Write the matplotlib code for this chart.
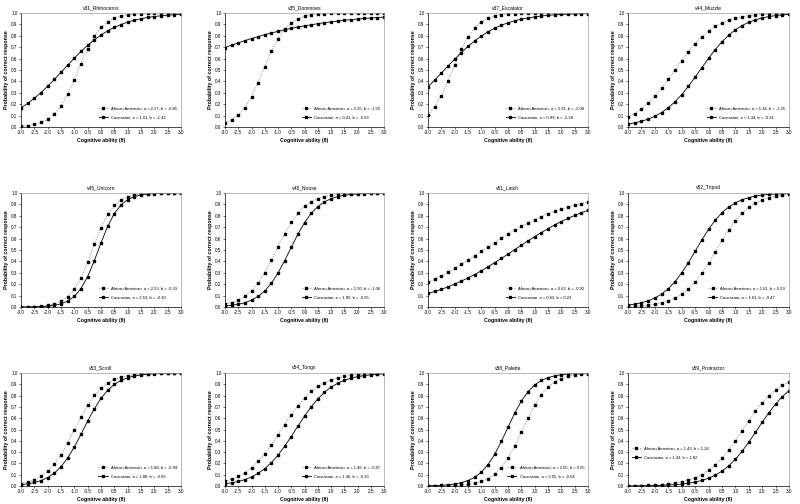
import matplotlib
matplotlib.use("Agg")
from matplotlib import pyplot as plt

plt.rcParams['font.family'] = ['Liberation Sans', 'DejaVu Sans']

theta = [-3.0, -2.75, -2.5, -2.25, -2.0, -1.75, -1.5, -1.25, -1.0, -0.75, -0.5, -0.25,
         0.0, 0.25, 0.5, 0.75, 1.0, 1.25, 1.5, 1.75, 2.0, 2.25, 2.5, 2.75, 3.0]

titles = ["v31_Rhinoceros", "v35_Dominoes", "v37_Escalator", "v44_Muzzle",
          "v45_Unicorn", "v48_Noose", "v51_Latch", "v52_Tripod",
          "v53_Scroll", "v54_Tongs", "v58_Palette", "v59_Protractor"]

aa_labels = ["a = 2.27, b = -0.85", "a = 2.25, b = -1.55", "a = 2.31, b = -2.08", "a = 1.34, b = -1.25",
             "a = 2.53, b = -0.33", "a = 1.90, b = -1.06", "a = 0.62, b = -0.92", "a = 1.61, b = 0.29",
             "a = 1.88, b = -0.99", "a = 1.46, b = -0.87", "a = 2.05, b = 0.55", "a = 1.43, b = 1.28"]
ca_labels = ["a = 1.01, b = -1.42", "a = 0.41, b = -5.03", "a = 0.99, b = -2.39", "a = 1.34, b = -0.31",
             "a = 2.53, b = -0.10", "a = 1.90, b = -0.55", "a = 0.62, b = 0.23", "a = 1.61, b = -0.47",
             "a = 1.88, b = -0.66", "a = 1.46, b = -0.33", "a = 2.05, b = -0.04", "a = 1.43, b = 1.82"]

# African American curves, one list per item
aa_rhinoceros = [0.01, 0.013, 0.023, 0.040, 0.069, 0.115, 0.186, 0.287, 0.416, 0.557, 0.688, 0.796, 0.873,
                 0.924, 0.955, 0.974, 0.985, 0.992, 0.995, 0.997, 0.998, 0.999, 1.0, 1.0, 1.0]
aa_dominoes = [0.037, 0.063, 0.105, 0.171, 0.266, 0.389, 0.528, 0.663, 0.775, 0.858, 0.914, 0.949, 0.970,
               0.983, 0.990, 0.994, 0.997, 0.998, 0.999, 0.999, 1.0, 1.0, 1.0, 1.0, 1.0]
aa_escalator = [0.107, 0.175, 0.275, 0.403, 0.546, 0.682, 0.792, 0.872, 0.924, 0.956, 0.975, 0.986, 0.992,
                0.995, 0.997, 0.999, 0.999, 1.0, 1.0, 1.0, 1.0, 1.0, 1.0, 1.0, 1.0]
aa_muzzle = [0.087, 0.118, 0.158, 0.208, 0.268, 0.338, 0.417, 0.5, 0.583, 0.662, 0.732, 0.792, 0.842,
             0.882, 0.913, 0.936, 0.953, 0.966, 0.976, 0.982, 0.987, 0.991, 0.993, 0.995, 0.997]
aa_unicorn = [0.001, 0.002, 0.004, 0.008, 0.014, 0.027, 0.049, 0.089, 0.155, 0.257, 0.394, 0.550, 0.697,
              0.813, 0.891, 0.939, 0.967, 0.982, 0.990, 0.995, 0.997, 0.998, 0.999, 1.0, 1.0]
aa_noose = [0.024, 0.039, 0.061, 0.094, 0.144, 0.212, 0.302, 0.411, 0.528, 0.643, 0.743, 0.823, 0.882,
            0.923, 0.951, 0.969, 0.980, 0.988, 0.992, 0.995, 0.997, 0.998, 0.999, 0.999, 1.0]
aa_latch = [0.216, 0.243, 0.273, 0.305, 0.338, 0.374, 0.411, 0.449, 0.488, 0.526, 0.565, 0.602, 0.639,
            0.674, 0.707, 0.738, 0.767, 0.793, 0.818, 0.840, 0.859, 0.877, 0.893, 0.907, 0.919]
aa_tripod = [0.005, 0.007, 0.011, 0.016, 0.024, 0.036, 0.053, 0.077, 0.111, 0.158, 0.219, 0.295, 0.385,
             0.484, 0.584, 0.677, 0.758, 0.824, 0.875, 0.913, 0.940, 0.959, 0.972, 0.981, 0.987]
aa_scroll = [0.022, 0.035, 0.055, 0.086, 0.130, 0.193, 0.277, 0.380, 0.495, 0.611, 0.715, 0.801, 0.865,
             0.911, 0.943, 0.963, 0.977, 0.985, 0.991, 0.994, 0.996, 0.998, 0.999, 0.999, 0.999]
aa_tongs = [0.043, 0.060, 0.085, 0.118, 0.161, 0.217, 0.285, 0.365, 0.453, 0.544, 0.632, 0.712, 0.781,
            0.837, 0.881, 0.914, 0.939, 0.957, 0.970, 0.979, 0.985, 0.990, 0.993, 0.995, 0.996]
aa_palette = [0.001, 0.001, 0.002, 0.003, 0.005, 0.009, 0.015, 0.024, 0.040, 0.065, 0.104, 0.162, 0.245,
              0.351, 0.474, 0.601, 0.716, 0.808, 0.875, 0.921, 0.951, 0.970, 0.982, 0.989, 0.993]
aa_protractor = [0.002, 0.003, 0.004, 0.006, 0.009, 0.013, 0.018, 0.026, 0.037, 0.052, 0.073, 0.101, 0.138,
                 0.187, 0.247, 0.319, 0.401, 0.489, 0.578, 0.662, 0.737, 0.800, 0.851, 0.891, 0.921]

# Caucasian curves
ca_rhinoceros = [0.168, 0.207, 0.252, 0.302, 0.358, 0.417, 0.480, 0.542, 0.604, 0.663, 0.717, 0.765, 0.807,
                 0.844, 0.874, 0.899, 0.920, 0.937, 0.950, 0.961, 0.969, 0.976, 0.981, 0.985, 0.989]
ca_dominoes = [0.697, 0.718, 0.738, 0.758, 0.776, 0.793, 0.810, 0.825, 0.839, 0.853, 0.865, 0.877, 0.887,
               0.897, 0.906, 0.915, 0.922, 0.929, 0.936, 0.942, 0.947, 0.952, 0.956, 0.960, 0.964]
ca_escalator = [0.353, 0.412, 0.473, 0.535, 0.595, 0.653, 0.707, 0.756, 0.798, 0.835, 0.867, 0.893, 0.914,
                0.932, 0.946, 0.957, 0.966, 0.974, 0.979, 0.984, 0.987, 0.990, 0.992, 0.994, 0.995]
ca_muzzle = [0.026, 0.037, 0.050, 0.069, 0.094, 0.127, 0.169, 0.221, 0.284, 0.357, 0.437, 0.520, 0.602,
             0.679, 0.747, 0.805, 0.853, 0.890, 0.919, 0.940, 0.957, 0.969, 0.977, 0.984, 0.988]
ca_unicorn = [0.001, 0.001, 0.002, 0.004, 0.008, 0.015, 0.028, 0.052, 0.093, 0.162, 0.267, 0.406, 0.563,
              0.708, 0.820, 0.896, 0.942, 0.968, 0.983, 0.991, 0.995, 0.997, 0.999, 0.999, 1.0]
ca_noose = [0.009, 0.015, 0.024, 0.038, 0.060, 0.093, 0.141, 0.209, 0.298, 0.406, 0.524, 0.639, 0.740,
            0.821, 0.880, 0.922, 0.950, 0.968, 0.980, 0.987, 0.992, 0.995, 0.997, 0.998, 0.999]
ca_latch = [0.119, 0.136, 0.155, 0.177, 0.201, 0.227, 0.255, 0.285, 0.318, 0.353, 0.389, 0.426, 0.464,
            0.503, 0.542, 0.580, 0.617, 0.653, 0.687, 0.720, 0.750, 0.778, 0.803, 0.827, 0.848]
ca_tripod = [0.017, 0.025, 0.037, 0.054, 0.079, 0.113, 0.160, 0.222, 0.299, 0.389, 0.488, 0.588, 0.681,
             0.761, 0.827, 0.877, 0.914, 0.941, 0.960, 0.973, 0.982, 0.988, 0.992, 0.994, 0.996]
ca_scroll = [0.012, 0.019, 0.031, 0.048, 0.074, 0.114, 0.171, 0.248, 0.345, 0.458, 0.575, 0.684, 0.776,
             0.847, 0.899, 0.934, 0.958, 0.973, 0.983, 0.989, 0.993, 0.996, 0.997, 0.998, 0.999]
ca_tongs = [0.020, 0.028, 0.040, 0.057, 0.080, 0.112, 0.153, 0.207, 0.273, 0.351, 0.438, 0.529, 0.618,
            0.700, 0.771, 0.829, 0.875, 0.909, 0.935, 0.954, 0.968, 0.977, 0.984, 0.989, 0.992]
ca_palette = [0.002, 0.004, 0.006, 0.011, 0.018, 0.029, 0.048, 0.077, 0.123, 0.189, 0.280, 0.394, 0.520,
              0.644, 0.752, 0.835, 0.894, 0.934, 0.959, 0.975, 0.985, 0.991, 0.995, 0.997, 0.998]
ca_protractor = [0.001, 0.001, 0.002, 0.003, 0.004, 0.006, 0.009, 0.012, 0.017, 0.025, 0.035, 0.049, 0.069,
                 0.096, 0.131, 0.178, 0.236, 0.307, 0.388, 0.475, 0.564, 0.649, 0.726, 0.791, 0.844]

aa_series = [aa_rhinoceros, aa_dominoes, aa_escalator, aa_muzzle, aa_unicorn, aa_noose,
             aa_latch, aa_tripod, aa_scroll, aa_tongs, aa_palette, aa_protractor]
ca_series = [ca_rhinoceros, ca_dominoes, ca_escalator, ca_muzzle, ca_unicorn, ca_noose,
             ca_latch, ca_tripod, ca_scroll, ca_tongs, ca_palette, ca_protractor]

W, H = 800, 504
fig = plt.figure(figsize=(8, 5.04), dpi=100)

lefts = [21, 225, 428, 628]
widths = [160, 159, 160, 161]
tops = [13, 193, 373]
heights = [114, 114, 113]

for i in range(12):
    r, c = divmod(i, 4)
    ax = fig.add_axes([lefts[c] / W, 1 - (tops[r] + heights[r]) / H,
                       widths[c] / W, heights[r] / H])
    ax.plot(theta, aa_series[i], color='#909090', lw=0.6, ls=(0, (1.5, 1.5)),
            marker='s', ms=2.1, mfc='black', mec='black',
            label="African American, " + aa_labels[i])
    ax.plot(theta, ca_series[i], color='black', lw=0.6,
            marker='s', ms=2.1, mfc='black', mec='black',
            label="Caucasian, " + ca_labels[i])
    ax.set_xlim(-3, 3)
    ax.set_ylim(0, 1)
    ax.set_xticks([-3.0, -2.5, -2.0, -1.5, -1.0, -0.5, 0.0, 0.5, 1.0, 1.5, 2.0, 2.5, 3.0])
    ax.set_yticks([0.0, 0.1, 0.2, 0.3, 0.4, 0.5, 0.6, 0.7, 0.8, 0.9, 1.0])
    ax.xaxis.set_major_formatter(matplotlib.ticker.FormatStrFormatter('%.1f'))
    ax.yaxis.set_major_formatter(matplotlib.ticker.FormatStrFormatter('%.1f'))
    ax.tick_params(labelsize=3.3, length=1.5, width=0.4, pad=1.0)
    for side in ['top', 'right']:
        ax.spines[side].set_color('#a0a0a0')
    for side in ax.spines:
        ax.spines[side].set_linewidth(0.5)
    ax.set_title(titles[i], fontsize=3.6, pad=3)
    ax.set_xlabel("Cognitive ability (θ)", fontsize=3.7, fontweight='bold', labelpad=2)
    ax.set_ylabel("Probability of correct response", fontsize=3.8, fontweight='bold', labelpad=1.5)
    if i == 11:
        ax.legend(loc='center left', bbox_to_anchor=(0.0, 0.29), frameon=False, fontsize=3.0,
                  handlelength=2.2, labelspacing=1.2)
    else:
        ax.legend(loc='lower right', bbox_to_anchor=(1.0, 0.03), frameon=False, fontsize=3.0,
                  handlelength=2.2, labelspacing=1.2)

fig.savefig("out.png", dpi=100)
